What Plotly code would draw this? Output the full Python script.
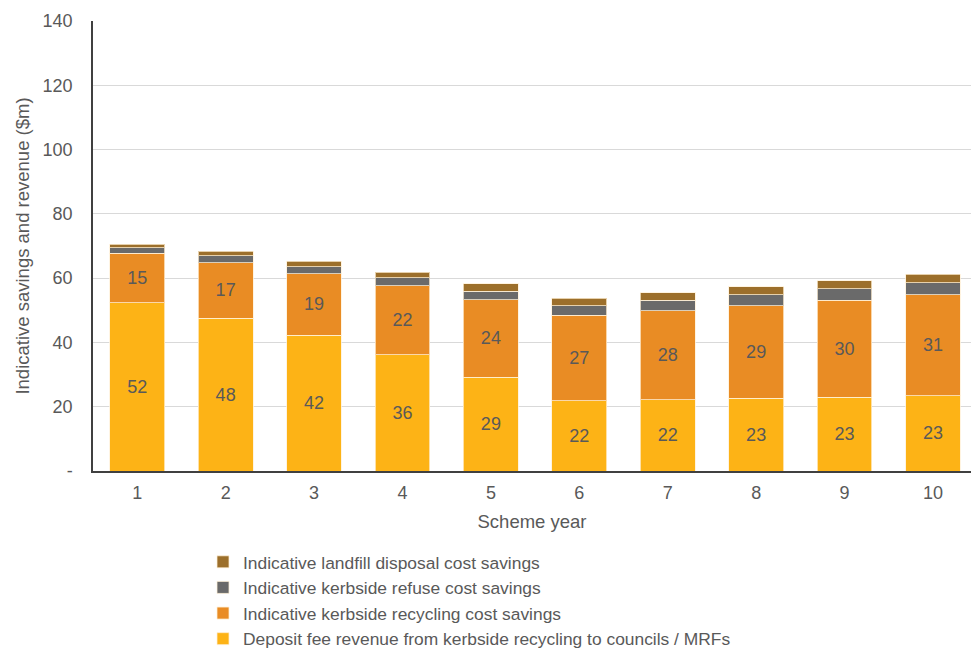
import plotly.graph_objects as go

years = ["1", "2", "3", "4", "5", "6", "7", "8", "9", "10"]
deposit_revenue = [52.3, 47.6, 42.3, 36.1, 29.2, 21.8, 22.1, 22.6, 23.0, 23.4]
recycling_savings = [15.4, 17.2, 19.1, 21.5, 24.1, 26.6, 27.7, 28.8, 30.1, 31.4]
refuse_savings = [1.8, 2.1, 2.2, 2.5, 2.7, 3.0, 3.3, 3.5, 3.6, 3.7]
landfill_savings = [1.1, 1.4, 1.6, 1.8, 2.2, 2.4, 2.4, 2.4, 2.5, 2.7]

y_ticks = [0, 20, 40, 60, 80, 100, 120, 140]
y_tick_text = ["-", "20", "40", "60", "80", "100", "120", "140"]

FONT = "Liberation Sans, Arial, sans-serif"
TEXT_GREY = "#595959"
EDGE = dict(color="rgba(255,240,215,0.75)", width=1)

W, H = 971, 648
ML, MR, MT, MB = 93, 0, 21, 177
PLOT_W = W - ML - MR
PLOT_H = H - MT - MB

series = [
    ("Deposit fee revenue from kerbside recycling to councils / MRFs", deposit_revenue, "#FDB316", True),
    ("Indicative kerbside recycling cost savings", recycling_savings, "#E98C24", True),
    ("Indicative kerbside refuse cost savings", refuse_savings, "#6A6A6A", False),
    ("Indicative landfill disposal cost savings", landfill_savings, "#9C6F2B", False),
]

fig = go.Figure()
for name, vals, color, labelled in series:
    fig.add_trace(go.Bar(
        x=years, y=vals, name=name,
        marker=dict(color=color, line=EDGE),
        texttemplate="%{y:.0f}" if labelled else None,
        textposition="inside" if labelled else "none",
        insidetextanchor="middle",
        textfont=dict(family=FONT, size=18, color=TEXT_GREY),
    ))

fig.update_layout(
    width=W, height=H,
    barmode="stack", bargap=0.38,
    plot_bgcolor="white", paper_bgcolor="white",
    margin=dict(l=ML, r=MR, t=MT, b=MB, autoexpand=False),
    font=dict(family=FONT, color=TEXT_GREY, size=18),
    uniformtext=dict(mode="show", minsize=10),
    legend=dict(
        x=(203 - ML) / PLOT_W, y=-(544 - MT - PLOT_H) / PLOT_H,
        xanchor="left", yanchor="top",
        traceorder="reversed",
        font=dict(family=FONT, size=17.4, color=TEXT_GREY),
        tracegroupgap=0, itemwidth=30,
        bgcolor="rgba(0,0,0,0)",
    ),
    xaxis=dict(
        type="category",
        range=[-0.5, 9.43],
        showline=True, linecolor="#404040", linewidth=1.5,
        ticks="", ticklabelstandoff=5,
        tickfont=dict(size=18, color=TEXT_GREY),
        title=dict(text="Scheme year", font=dict(size=18.5, color=TEXT_GREY), standoff=13),
    ),
    yaxis=dict(
        range=[0, 140],
        tickvals=y_ticks, ticktext=y_tick_text,
        showgrid=True, gridcolor="#D9D9D9", gridwidth=1,
        showline=True, linecolor="#404040", linewidth=1.5,
        zeroline=False,
        tickfont=dict(size=18, color=TEXT_GREY),
        ticks="", ticklabelstandoff=15,
        title=dict(text="Indicative savings and revenue ($m)", font=dict(size=18.5, color=TEXT_GREY), standoff=8),
    ),
)

fig.write_html("out.html")
